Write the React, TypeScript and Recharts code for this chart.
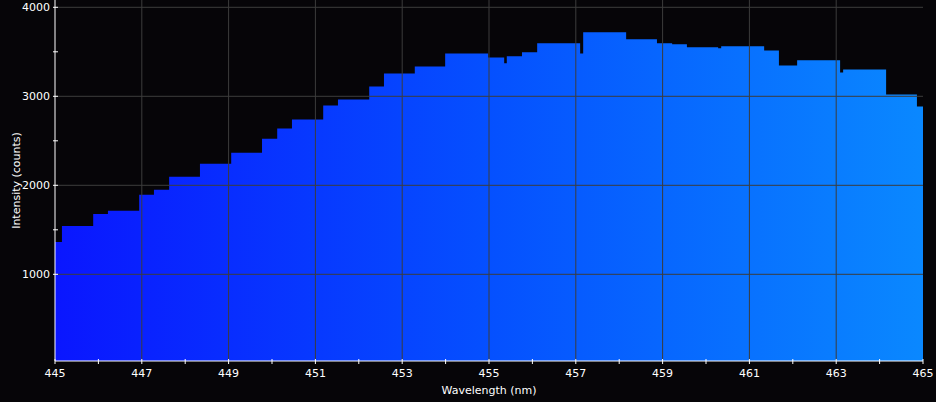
import {
  ComposedChart,
  Area,
  XAxis,
  YAxis,
  ReferenceLine,
} from "recharts";

// step positions (nm) and counts
const wavelengths = [
  445.0, 445.16, 445.88, 446.22, 446.94, 447.28, 447.63, 448.34, 449.06,
  449.77, 450.12, 450.46, 451.18, 451.52, 452.24, 452.58, 453.29, 453.99,
  454.98, 455.35, 455.41, 455.76, 456.11, 457.1, 457.17, 458.16, 458.87,
  459.22, 459.56, 460.28, 460.35, 461.34, 461.68, 462.1, 463.09, 463.16,
  464.15, 464.86, 465.0,
];
const intensities = [
  1364, 1544, 1679, 1713, 1893, 1950, 2096, 2243, 2367, 2524, 2637, 2739,
  2896, 2964, 3111, 3257, 3336, 3482, 3437, 3370, 3449, 3494, 3595, 3482,
  3719, 3640, 3595, 3584, 3550, 3539, 3561, 3516, 3347, 3404, 3268, 3302,
  3020, 2885, 2885,
];

const xTicks = [
  445, 446, 447, 448, 449, 450, 451, 452, 453, 454, 455, 456, 457, 458, 459,
  460, 461, 462, 463, 464, 465,
];
const xGrid = [447, 449, 451, 453, 455, 457, 459, 461, 463];
const yTicks = [1000, 1500, 2000, 2500, 3000, 3500, 4000];
const yGrid = [1000, 2000, 3000, 4000];

const spectrum = wavelengths.map((wl, i) => ({ wl, intensity: intensities[i] }));

const FONT = "'DejaVu Sans', sans-serif";
const GRID = "#3c3c3c";

function XTick({ x, y, payload }: any) {
  const v = payload.value as number;
  return (
    <g>
      <line x1={x} x2={x} y1={y - 2} y2={y + 3} stroke="#fff" />
      {v % 2 === 1 && (
        <text x={x} y={y + 16} textAnchor="middle" fill="#fff" fontSize={11} fontFamily={FONT}>
          {v}
        </text>
      )}
    </g>
  );
}

function YTick({ x, y, payload }: any) {
  const v = payload.value as number;
  return (
    <g>
      <line x1={x - 2} x2={x + 3} y1={y} y2={y} stroke="#fff" />
      {v % 1000 === 0 && (
        <text x={x - 5} y={y} dy="0.36em" textAnchor="end" fill="#fff" fontSize={11} fontFamily={FONT}>
          {v}
        </text>
      )}
    </g>
  );
}

export default function App() {
  return (
    <div
      style={{
        position: "absolute",
        left: 0,
        top: 0,
        width: 936,
        height: 402,
        background: "#060508",
      }}
    >
      <ComposedChart
        width={936}
        height={402}
        data={spectrum}
        margin={{ top: 0, right: 13, bottom: 0, left: 0 }}
      >
        <defs>
          <linearGradient id="blueGrad" x1="0" y1="0" x2="1" y2="0">
            <stop offset="0%" stopColor="#0a16ff" />
            <stop offset="50%" stopColor="#0550ff" />
            <stop offset="100%" stopColor="#0a88ff" />
          </linearGradient>
        </defs>
        <XAxis
          dataKey="wl"
          type="number"
          domain={[445, 465]}
          ticks={xTicks}
          interval={0}
          allowDataOverflow
          height={41}
          tickSize={0}
          tickMargin={0}
          tickLine={false}
          tick={<XTick />}
          axisLine={{ stroke: "#fff" }}
          label={{
            content: ({ viewBox }: any) => (
              <text
                x={viewBox.x + viewBox.width / 2}
                y={viewBox.y + 33}
                textAnchor="middle"
                fill="#fff"
                fontSize={11}
                fontFamily={FONT}
              >
                Wavelength (nm)
              </text>
            ),
          }}
        />
        <YAxis
          type="number"
          domain={[26, 4082]}
          ticks={yTicks}
          interval={0}
          allowDataOverflow
          width={55}
          tickSize={0}
          tickMargin={0}
          tickLine={false}
          tick={<YTick />}
          axisLine={{ stroke: "#fff" }}
          label={{
            content: ({ viewBox }: any) => {
              const cx = viewBox.x + 16;
              const cy = viewBox.y + viewBox.height / 2;
              return (
                <text
                  x={cx}
                  y={cy}
                  dy="0.36em"
                  transform={`rotate(-90 ${cx} ${cy})`}
                  textAnchor="middle"
                  fill="#fff"
                  fontSize={11}
                  fontFamily={FONT}
                >
                  Intensity (counts)
                </text>
              );
            },
          }}
        />
        <Area
          type="stepAfter"
          dataKey="intensity"
          stroke="none"
          fill="url(#blueGrad)"
          fillOpacity={1}
          isAnimationActive={false}
        />
        {xGrid.map((v) => (
          <ReferenceLine key={`x${v}`} x={v} stroke={GRID} />
        ))}
        {yGrid.map((v) => (
          <ReferenceLine key={`y${v}`} y={v} stroke={GRID} />
        ))}
      </ComposedChart>
    </div>
  );
}
